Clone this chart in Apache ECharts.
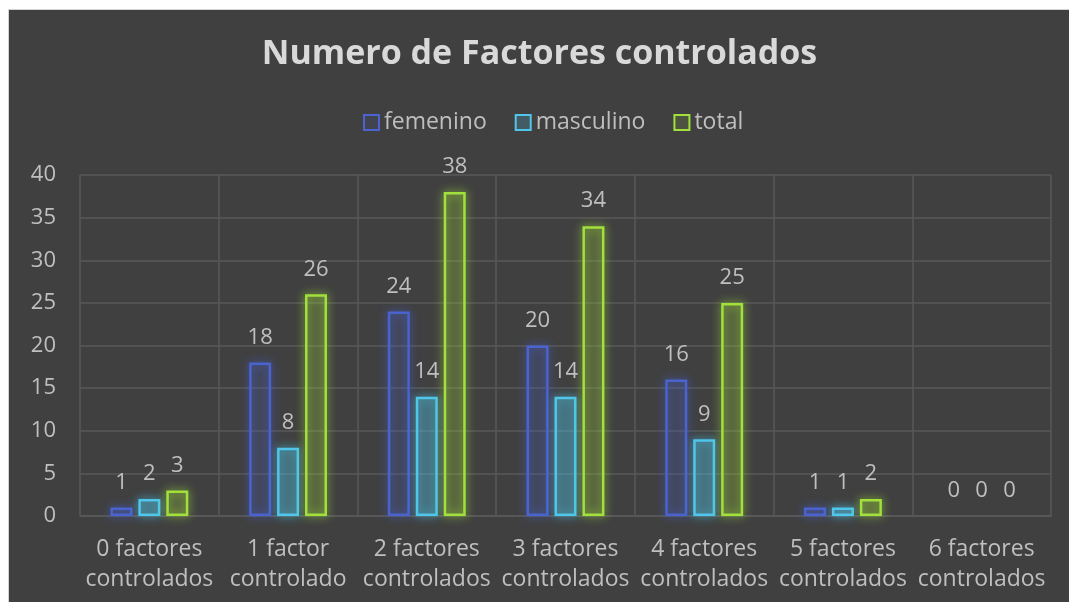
<!DOCTYPE html>
<html>
<head>
<meta charset="utf-8">
<script src="https://cdn.jsdelivr.net/npm/echarts@6/dist/echarts.min.js"></script>
<style>
  html, body { margin: 0; padding: 0; background: #fff; }
  #chart {
    position: absolute; left: 8px; top: 9px; width: 1061px; height: 593px;
    background: #404040; border-top: 1px solid #d4d4d4; border-left: 1px solid #d4d4d4;
  }
</style>
</head>
<body>
<div id="chart"></div>
<script>
// categorias y valores
const categories = [
  "0 factores\ncontrolados", "1 factor\ncontrolado", "2 factores\ncontrolados",
  "3 factores\ncontrolados", "4 factores\ncontrolados", "5 factores\ncontrolados",
  "6 factores\ncontrolados"
];
const femenino = [1, 18, 24, 20, 16, 1, 0];
const masculino = [2, 8, 14, 14, 9, 1, 0];
const total = [3, 26, 38, 34, 25, 2, 0];
const yTicks = [0, 5, 10, 15, 20, 25, 30, 35, 40];

const FONT = "Open Sans";
const TEXT = "#bfbfbf";
const GRID = "#595959";

const chart = echarts.init(document.getElementById("chart"));

/** serie con borde y brillo; las barras de 0 no se dibujan, solo la etiqueta */
const makeSeries = (name, data, color, fill) => ({
  name: name,
  type: "bar",
  data: data.map((v) =>
    v === 0
      ? { value: v, itemStyle: { borderWidth: 0, shadowBlur: 0, color: "rgba(0,0,0,0)" } }
      : v
  ),
  barWidth: 22,
  barGap: "27%",
  itemStyle: {
    color: fill,
    borderColor: color,
    borderWidth: 2.5,
    shadowColor: color,
    shadowBlur: 10,
  },
  label: {
    show: true,
    position: "top",
    distance: 14,
    color: TEXT,
    fontSize: 22,
    fontFamily: FONT,
  },
});

const options = {
  animation: false,
  title: {
    text: "Numero de Factores controlados",
    left: "center",
    top: 22,
    textStyle: {
      color: "#d9d9d9",
      fontSize: 34,
      fontWeight: "bold",
      fontFamily: FONT,
    },
  },
  legend: {
    data: ["femenino", "masculino", "total"],
    top: 96,
    left: 349,
    itemWidth: 15,
    itemHeight: 15,
    itemGap: 28,
    icon: "rect",
    textStyle: { color: TEXT, fontSize: 23, fontFamily: FONT },
  },
  grid: {
    left: 71,
    right: 19,
    top: 165,
    bottom: 87,
  },
  xAxis: {
    type: "category",
    data: categories,
    axisTick: { show: false },
    axisLine: { lineStyle: { color: GRID, width: 1.5 } },
    splitLine: { show: true, lineStyle: { color: GRID, width: 1.5 } },
    axisLabel: {
      color: TEXT,
      fontSize: 23,
      fontFamily: FONT,
      lineHeight: 30,
      margin: 18,
      interval: 0,
    },
  },
  yAxis: {
    type: "value",
    min: yTicks[0],
    max: yTicks[yTicks.length - 1],
    interval: 5,
    axisLine: { show: false },
    axisTick: { show: false },
    splitLine: { lineStyle: { color: GRID, width: 1.5 } },
    axisLabel: {
      color: TEXT,
      fontSize: 22,
      fontFamily: FONT,
      margin: 24,
    },
  },
  series: [
    makeSeries("femenino", femenino, "#4a63cf", "rgba(74,99,207,0.1)"),
    makeSeries("masculino", masculino, "#4fc6ea", "rgba(79,198,234,0.2)"),
    makeSeries("total", total, "#a2e03c", "rgba(162,224,60,0.12)"),
  ],
};

chart.setOption(options);
</script>
</body>
</html>
